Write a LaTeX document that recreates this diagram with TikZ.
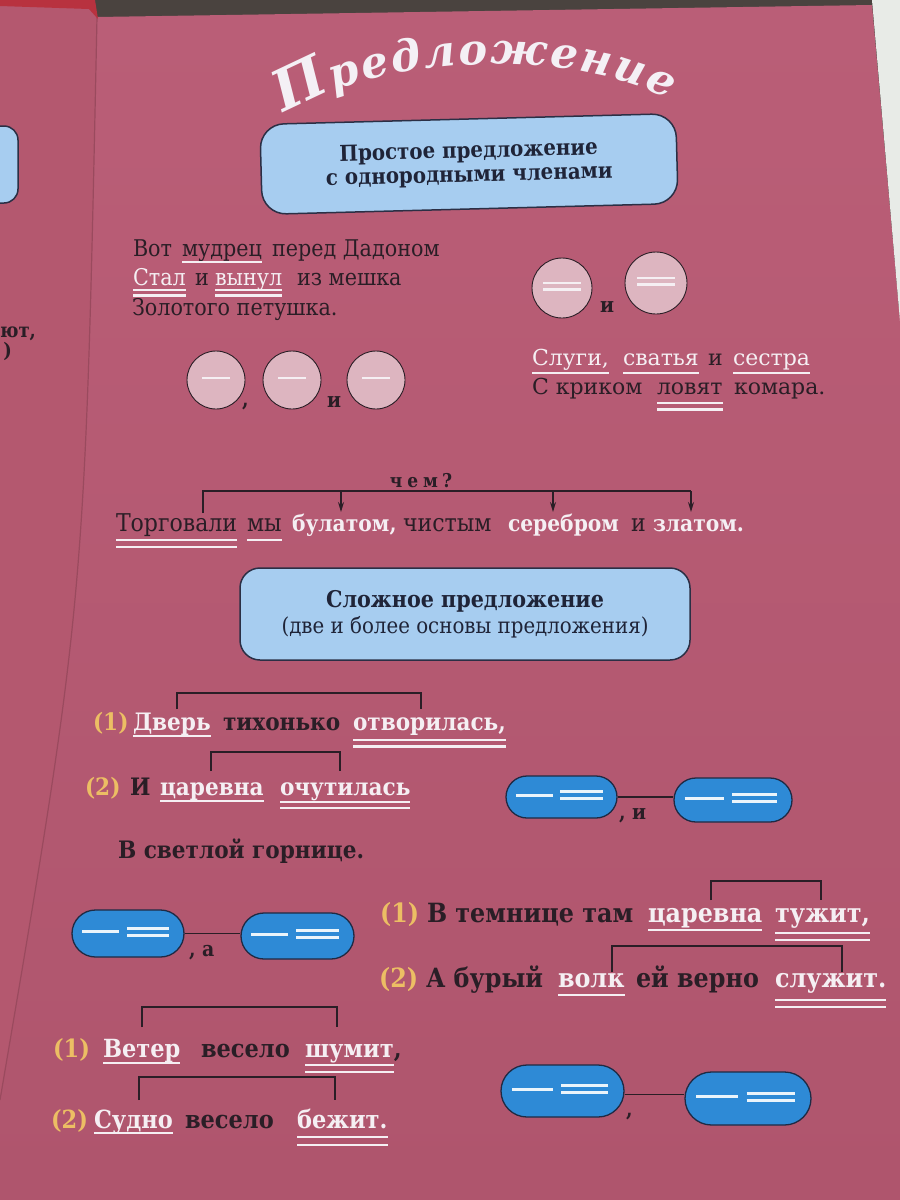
\documentclass[tikz,border=0pt]{standalone}
\usepackage{fontspec}
\setmainfont{DejaVu Serif}[FakeStretch=0.9]
\newfontfamily\titlefont{DejaVu Serif}
\newfontfamily\widefont{DejaVu Serif}
\usetikzlibrary{calc,arrows.meta,shapes.misc,decorations.text}
\definecolor{tabledark}{HTML}{4A433F}
\definecolor{pagetop}{HTML}{BA5E77}
\definecolor{pagebot}{HTML}{AF556D}
\definecolor{leftpage}{HTML}{B4586F}
\definecolor{gutter}{HTML}{9A4A5E}
\definecolor{crimson}{HTML}{B8323F}
\definecolor{paperwhite}{HTML}{E8EBE7}
\definecolor{ink}{HTML}{2A1E26}
\definecolor{wtext}{HTML}{F5EFF3}
\definecolor{gold}{HTML}{ECBE64}
\definecolor{boxblue}{HTML}{A7CDF0}
\definecolor{boxline}{HTML}{2B2F45}
\definecolor{boxtext}{HTML}{1F2438}
\definecolor{ovalblue}{HTML}{2E8AD6}
\definecolor{ovalline}{HTML}{1F2A44}
\definecolor{odashcol}{HTML}{EAF4FB}
\definecolor{circfill}{HTML}{DDB5C0}
\definecolor{titlecol}{HTML}{F4F0F5}
\newcommand\ttlbig{\titlefont\bfseries\itshape\fontsize{56}{56}\selectfont\color{titlecol}}
\newcommand\ttlsmall{\titlefont\bfseries\itshape\fontsize{43}{43}\selectfont\color{titlecol}}
\newcommand\ulA[2]{\draw[ul] ($(#1.base west)+(0,#2)$) -- ($(#1.base east)+(0,#2)$);}
\newcommand\ulB[3]{\ulA{#1}{#2}\ulA{#1}{#3}}
\newcommand\brkt[6]{%
  \path (#1.base west) ++(#2,0) coordinate (bA);
  \path (#3.base west) ++(#4,0) coordinate (bB);
  \coordinate (lT) at (0,#5); \coordinate (lD) at (0,#6);
  \draw[brkline] (bA |- lD) -- (bA |- lT) -- (bB |- lT) -- (bB |- lD);}
\newcommand\basis[5]{%
  \node[oval, minimum width=#4pt, minimum height=#5pt] (#1) at (#2,#3) {};
  \draw[odash] ($(#1.center)+(-0.41*#4,-2)$) -- ($(#1.center)+(-0.08*#4,-2)$);
  \draw[odash] ($(#1.center)+(-0.01*#4,-5.5)$) -- ($(#1.center)+(0.37*#4,-5.5)$);
  \draw[odash] ($(#1.center)+(-0.01*#4,1.5)$) -- ($(#1.center)+(0.37*#4,1.5)$);}
\tikzset{
 w/.style={inner sep=0pt, outer sep=0pt, anchor=base west, text=ink},
 wt/.style={w, text=wtext},
 num/.style={w, text=gold},
 poem/.style={font=\fontsize{23}{26}\selectfont},
 poemw/.style={font=\widefont\fontsize{22}{26}\selectfont},
 torg/.style={font=\fontsize{24.5}{26}\selectfont},
 torgb/.style={font=\fontsize{22.5}{26}\selectfont\bfseries},
 sa/.style={font=\fontsize{24}{26}\selectfont\bfseries},
 sb/.style={font=\fontsize{26.5}{28}\selectfont\bfseries},
 sc/.style={font=\fontsize{25}{28}\selectfont\bfseries},
 lab/.style={w, font=\fontsize{21}{24}\selectfont\bfseries},
 ul/.style={draw=wtext, line width=2.2pt},
 brkline/.style={draw=ink, line width=1.4pt},
 arr/.style={brkline, -{Stealth[length=10pt,width=6pt]}},
 circ/.style={circle, draw=ink, line width=0.9pt, fill=circfill, inner sep=0pt, minimum size=58pt},
 cdash/.style={draw=wtext, line width=2.6pt},
 box/.style={draw=boxline, line width=1.5pt, fill=boxblue, rounded corners=22pt, align=center, text=boxtext},
 oval/.style={rounded rectangle, draw=ovalline, line width=1.3pt, fill=ovalblue, inner sep=0pt},
 odash/.style={draw=odashcol, line width=3pt},
}
\begin{document}
\begin{tikzpicture}[x=1pt,y=-1pt]
\useasboundingbox (0,0) rectangle (900,1200);
\clip (0,0) rectangle (900,1200);
% ---- photo background ----
\fill[tabledark] (0,0) rectangle (900,1200);
\shade[top color=pagetop, bottom color=pagebot] (97,17) -- (872,5) -- (900,321) -- (900,1200) -- (0,1200) -- (0,1100) .. controls (85,600) .. (97,17) -- cycle;
\fill[leftpage] (0,4) -- (90,7) -- (97,17) .. controls (85,600) .. (0,1100) -- cycle;
\draw[gutter, line width=1.2pt] (97,17) .. controls (85,600) .. (0,1100);
\fill[crimson] (0,0) -- (95,0) -- (98,19) -- (89,9) -- (0,6) -- cycle;
\fill[paperwhite] (872,0) -- (900,0) -- (900,321) -- cycle;
% left page fragments
\filldraw[fill=boxblue, draw=boxline, line width=1.5pt, rounded corners=14pt] (-40,126) rectangle (18,203);
\node[w, font=\fontsize{20}{22}\selectfont\bfseries, anchor=base east] (lp1) at (36,337) {ют,};
\node[w, font=\fontsize{20}{22}\selectfont\bfseries, anchor=base east] (lp2) at (12,357) {)};
% ---- title ----
\path[decorate, decoration={text along path, text align=fit to path,
      text={|\ttlbig|П|\ttlsmall|редложение}}]
  (284,114) .. controls (385,52) and (580,48) .. (668,100);
% ---- box 1 ----
\node[box, rotate=1.5, minimum width=416pt, minimum height=90pt, rounded corners=24pt,
      font=\fontsize{22}{24}\selectfont\bfseries] (b1) at (469,164) {Простое предложение\\с однородными членами};
% ---- poem ----
\node[w,poem] (p1a) at (133,256) {Вот};
\node[w,poem] (p1b) at (182,256) {мудрец};
\node[w,poem] (p1c) at (272,256) {перед Дадоном};
\node[wt,poem] (p2a) at (133,285) {Стал};
\node[w,poem] (p2b) at (195,285) {и};
\node[wt,poem] (p2c) at (215,285) {вынул};
\node[w,poem] (p2d) at (297,285) {из мешка};
\node[w,poem] (p3a) at (132,315) {Золотого петушка.};
\ulA{p1b}{6}
\ulB{p2a}{5}{10.5}
\ulB{p2c}{5}{10.5}
% single-dash circles
\node[circ] (c1) at (216,380) {};
\node[circ] (c2) at (292,380) {};
\node[circ] (c3) at (376,380) {};
\foreach \c in {c1,c2,c3} {\draw[cdash] ($(\c.center)+(-14,-2)$) -- ++(28,0);}
\node[lab] (k1) at (242,406) {,};
\node[lab] (k2) at (327,407) {и};
% double-dash circles
\node[circ, minimum size=60pt] (d1) at (562,288) {};
\node[circ, minimum size=62pt] (d2) at (656,283) {};
\foreach \c in {d1,d2} {\draw[cdash] ($(\c.center)+(-19,-5)$) -- ++(38,0);
  \draw[cdash] ($(\c.center)+(-19,1.5)$) -- ++(38,0);}
\node[lab] (k3) at (600,312) {и};
% second poem
\node[wt,poemw] (q1a) at (532,365) {Слуги,};
\node[wt,poemw] (q1b) at (623,365) {сватья};
\node[w,poemw] (q1c) at (708,365) {и};
\node[wt,poemw] (q1d) at (733,365) {сестра};
\node[w,poemw] (q2a) at (532,394) {С криком};
\node[w,poemw] (q2b) at (657,394) {ловят};
\node[w,poemw] (q2c) at (734,394) {комара.};
\ulA{q1a}{8}
\ulA{q1b}{8}
\ulA{q1d}{8}
\ulB{q2b}{9}{15.5}
% ---- чем? sentence ----
\node[w, anchor=base, font=\fontsize{19}{22}\selectfont\bfseries] (chem) at (421,487) {ч\kern5pt е\kern5pt м\kern4pt ?};
\node[w,torg] (t1) at (116,531) {Торговали};
\node[w,torg] (t2) at (247,531) {мы};
\node[wt,torgb] (t3) at (292,531) {булатом,};
\node[w,torg] (t4) at (403,531) {чистым};
\node[wt,torgb] (t5) at (508,531) {серебром};
\node[w,torg] (t6) at (631,531) {и};
\node[wt,torgb] (t7) at (653,531) {златом.};
\ulB{t1}{9}{16}
\ulA{t2}{9}
\coordinate (lvA) at (0,491);
\coordinate (lvB) at (0,513);
\coordinate (lvC) at (0,512);
\path (t1.base west) ++(87,0) coordinate (a0);
\path (t3.base west) ++(49,0) coordinate (a1);
\path (t5.base west) ++(45,0) coordinate (a2);
\path (t7.base west) ++(38,0) coordinate (a3);
\draw[brkline] (a0 |- lvB) -- (a0 |- lvA) -- (a3 |- lvA);
\draw[arr] (a1 |- lvA) -- (a1 |- lvC);
\draw[arr] (a2 |- lvA) -- (a2 |- lvC);
\draw[arr] (a3 |- lvA) -- (a3 |- lvC);
% ---- box 2 ----
\node[box, minimum width=450pt, minimum height=92pt, rounded corners=20pt,
      font=\fontsize{22}{26}\selectfont] (b2) at (465,614)
      {{\bfseries\fontsize{23}{26}\selectfont Сложное предложение}\\(две и более основы предложения)};
% ---- sentence 1 ----
\node[num,sa] (s1n) at (93,730) {(1)};
\node[wt,sa] (s1a) at (133,730) {Дверь};
\node[w,sa] (s1b) at (223,730) {тихонько};
\node[wt,sa] (s1c) at (353,730) {отворилась,};
\ulA{s1a}{6}
\ulB{s1c}{10}{16.5}
\brkt{s1a}{44}{s1c}{68}{693}{709}
\node[num,sa] (s2n) at (85,795) {(2)};
\node[w,sa] (s2a) at (130,795) {И};
\node[wt,sa] (s2b) at (160,795) {царевна};
\node[wt,sa] (s2c) at (280,795) {очутилась};
\ulA{s2b}{6}
\ulB{s2c}{7}{13}
\brkt{s2b}{51}{s2c}{60}{752}{771}
\node[w,sa] (s3) at (118,858) {В светлой горнице.};
% ovals pair 1
\basis{o1}{561.5}{797}{111}{42}
\basis{o2}{733}{800}{118}{44}
\draw[brkline] (o1.east) -- (o1.east -| o2.west);
\node[lab] (l1) at (619,819) {, и};
% ---- sentence 2 ----
\node[num,sb] (s4n) at (380,922) {(1)};
\node[w,sb] (s4a) at (427,922) {В темнице там};
\node[wt,sb] (s4b) at (648,922) {царевна};
\node[wt,sb] (s4c) at (775,922) {тужит,};
\ulA{s4b}{8}
\ulB{s4c}{11}{18}
\brkt{s4b}{63}{s4c}{46}{881}{900}
\node[num,sb] (s5n) at (379,987) {(2)};
\node[w,sb] (s5a) at (426,987) {А бурый};
\node[wt,sb] (s5b) at (558,987) {волк};
\node[w,sb] (s5c) at (636,987) {ей верно};
\node[wt,sb] (s5d) at (775,987) {служит.};
\ulA{s5b}{8}
\ulB{s5d}{13}{20}
\brkt{s5b}{54}{s5d}{67}{946}{972}
% ovals pair 2
\basis{o3}{128}{933.5}{112}{47}
\basis{o4}{297.5}{936}{113}{46}
\draw[brkline] (o3.east) -- (o3.east -| o4.west);
\node[lab] (l2) at (189,956) {, а};
% ---- sentence 3 ----
\node[num,sc] (s6n) at (53,1057) {(1)};
\node[wt,sc] (s6a) at (103,1057) {Ветер};
\node[w,sc] (s6b) at (201,1057) {весело};
\node[wt,sc] (s6c) at (305,1057) {шумит};
\node[w,sc] (s6d) at (s6c.base east) {,};
\ulA{s6a}{6}
\ulB{s6c}{8}{15}
\brkt{s6a}{39}{s6c}{32}{1007}{1027}
\node[num,sc] (s7n) at (51,1128) {(2)};
\node[wt,sc] (s7a) at (94,1128) {Судно};
\node[w,sc] (s7b) at (185,1128) {весело};
\node[wt,sc] (s7c) at (297,1128) {бежит.};
\ulA{s7a}{5}
\ulB{s7c}{9}{17}
\brkt{s7a}{45}{s7c}{38}{1077}{1100}
% ovals pair 3
\basis{o5}{562.5}{1091}{123}{52}
\basis{o6}{748}{1098.5}{126}{53}
\coordinate (mid3) at ($(o5.east)!0.5!(o6.west)$);
\draw[brkline] (o5.east |- mid3) -- (o6.west |- mid3);
\node[lab] (l3) at (626,1116) {,};
\end{tikzpicture}
\end{document}
